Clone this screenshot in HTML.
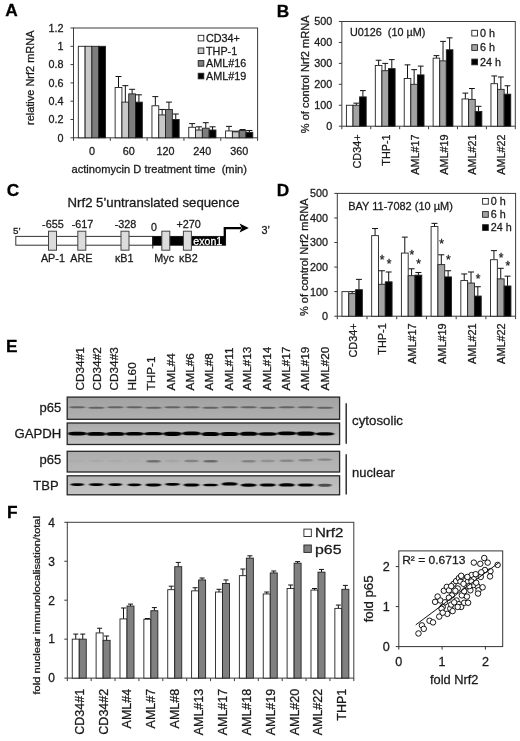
<!DOCTYPE html>
<html lang="en">
<head>
<meta charset="utf-8">
<title>Figure: Nrf2 mRNA regulation and NF-kB p65 localisation in AML</title>
<style>
text{stroke:#1a1a1a;stroke-width:.28px;}
html,body{margin:0;padding:0;background:#fff;}
body{width:520px;height:741px;overflow:hidden;font-family:"Liberation Sans",Arial,Helvetica,sans-serif;}
svg{display:block;}
</style>
</head>
<body>
<svg width="520" height="741" viewBox="0 0 520 741" font-family='"Liberation Sans", Arial, Helvetica, sans-serif' fill="#1a1a1a">
<defs>
<filter id="b1" x="-20%" y="-200%" width="140%" height="500%"><feGaussianBlur stdDeviation="0.8 0.5"/></filter>
<filter id="b2" x="-20%" y="-200%" width="140%" height="500%"><feGaussianBlur stdDeviation="0.8 0.55"/></filter>
<filter id="b3" x="-30%" y="-300%" width="160%" height="700%"><feGaussianBlur stdDeviation="1.3 0.7"/></filter>
<linearGradient id="g1" x1="0" y1="0" x2="0" y2="1"><stop offset="0" stop-color="#a2a2a2"/><stop offset="1" stop-color="#b0b0b0"/></linearGradient>
<linearGradient id="g2" x1="0" y1="0" x2="0" y2="1"><stop offset="0" stop-color="#aaaaaa"/><stop offset="1" stop-color="#c2c2c2"/></linearGradient>
<linearGradient id="g3" x1="0" y1="0" x2="0" y2="1"><stop offset="0" stop-color="#adadad"/><stop offset="1" stop-color="#b6b6b6"/></linearGradient>
<linearGradient id="g4" x1="0" y1="0" x2="0" y2="1"><stop offset="0" stop-color="#b6b6b6"/><stop offset="1" stop-color="#c4c4c4"/></linearGradient>
</defs>
<rect x="0" y="0" width="520" height="741" fill="#fff"/>
<text x="5.2" y="16.3" font-size="17.3" font-weight="bold" style="fill:#000;stroke:#000" xml:space="preserve">A</text>
<text x="276.7" y="16.5" font-size="17.3" font-weight="bold" style="fill:#000;stroke:#000" xml:space="preserve">B</text>
<text x="6.7" y="196.3" font-size="17.3" font-weight="bold" style="fill:#000;stroke:#000" xml:space="preserve">C</text>
<text x="276.7" y="196.3" font-size="17.3" font-weight="bold" style="fill:#000;stroke:#000" xml:space="preserve">D</text>
<text x="5.9" y="351.9" font-size="17.3" font-weight="bold" style="fill:#000;stroke:#000" xml:space="preserve">E</text>
<text x="6.9" y="517.5" font-size="17.3" font-weight="bold" style="fill:#000;stroke:#000" xml:space="preserve">F</text>
<g id="panelA">
<rect x="73.5" y="28" width="184.1" height="109.8" fill="none" stroke="#3c3c3c" stroke-width="1"/>
<line x1="70.5" y1="137.8" x2="73.5" y2="137.8" stroke="#3c3c3c" stroke-width="1"/>
<text x="63.5" y="141.67" font-size="10.8" text-anchor="end" xml:space="preserve">0</text>
<line x1="70.5" y1="119.5" x2="73.5" y2="119.5" stroke="#3c3c3c" stroke-width="1"/>
<text x="63.5" y="123.37" font-size="10.8" text-anchor="end" xml:space="preserve">0.2</text>
<line x1="70.5" y1="101.2" x2="73.5" y2="101.2" stroke="#3c3c3c" stroke-width="1"/>
<text x="63.5" y="105.07" font-size="10.8" text-anchor="end" xml:space="preserve">0.4</text>
<line x1="70.5" y1="82.9" x2="73.5" y2="82.9" stroke="#3c3c3c" stroke-width="1"/>
<text x="63.5" y="86.77" font-size="10.8" text-anchor="end" xml:space="preserve">0.6</text>
<line x1="70.5" y1="64.6" x2="73.5" y2="64.6" stroke="#3c3c3c" stroke-width="1"/>
<text x="63.5" y="68.47" font-size="10.8" text-anchor="end" xml:space="preserve">0.8</text>
<line x1="70.5" y1="46.3" x2="73.5" y2="46.3" stroke="#3c3c3c" stroke-width="1"/>
<text x="63.5" y="50.17" font-size="10.8" text-anchor="end" xml:space="preserve">1</text>
<line x1="70.5" y1="28" x2="73.5" y2="28" stroke="#3c3c3c" stroke-width="1"/>
<text x="63.5" y="31.87" font-size="10.8" text-anchor="end" xml:space="preserve">1.2</text>
<line x1="73.5" y1="137.8" x2="73.5" y2="140.8" stroke="#3c3c3c" stroke-width="1"/>
<line x1="110.32" y1="137.8" x2="110.32" y2="140.8" stroke="#3c3c3c" stroke-width="1"/>
<line x1="147.14" y1="137.8" x2="147.14" y2="140.8" stroke="#3c3c3c" stroke-width="1"/>
<line x1="183.96" y1="137.8" x2="183.96" y2="140.8" stroke="#3c3c3c" stroke-width="1"/>
<line x1="220.78" y1="137.8" x2="220.78" y2="140.8" stroke="#3c3c3c" stroke-width="1"/>
<line x1="257.6" y1="137.8" x2="257.6" y2="140.8" stroke="#3c3c3c" stroke-width="1"/>
<rect x="78.31" y="46.3" width="6.8" height="91.5" fill="#fff" stroke="#222" stroke-width="0.9"/>
<rect x="85.11" y="46.3" width="6.8" height="91.5" fill="#c8c8c8" stroke="#222" stroke-width="0.9"/>
<rect x="91.91" y="46.3" width="6.8" height="91.5" fill="#7d7d7d" stroke="#222" stroke-width="0.9"/>
<rect x="98.71" y="46.3" width="6.8" height="91.5" fill="#000" stroke="#222" stroke-width="0.9"/>
<line x1="118.53" y1="87.47" x2="118.53" y2="76.5" stroke="#111" stroke-width="1"/>
<line x1="115.53" y1="76.5" x2="121.53" y2="76.5" stroke="#111" stroke-width="1"/>
<rect x="115.13" y="87.47" width="6.8" height="50.33" fill="#fff" stroke="#222" stroke-width="0.9"/>
<line x1="125.33" y1="102.12" x2="125.33" y2="85.65" stroke="#111" stroke-width="1"/>
<line x1="122.33" y1="85.65" x2="128.33" y2="85.65" stroke="#111" stroke-width="1"/>
<rect x="121.93" y="102.12" width="6.8" height="35.69" fill="#c8c8c8" stroke="#222" stroke-width="0.9"/>
<line x1="132.13" y1="93.88" x2="132.13" y2="89.31" stroke="#111" stroke-width="1"/>
<line x1="129.13" y1="89.31" x2="135.13" y2="89.31" stroke="#111" stroke-width="1"/>
<rect x="128.73" y="93.88" width="6.8" height="43.92" fill="#7d7d7d" stroke="#222" stroke-width="0.9"/>
<line x1="138.93" y1="102.12" x2="138.93" y2="94.8" stroke="#111" stroke-width="1"/>
<line x1="135.93" y1="94.8" x2="141.93" y2="94.8" stroke="#111" stroke-width="1"/>
<rect x="135.53" y="102.12" width="6.8" height="35.69" fill="#000" stroke="#222" stroke-width="0.9"/>
<line x1="155.35" y1="105.78" x2="155.35" y2="96.62" stroke="#111" stroke-width="1"/>
<line x1="152.35" y1="96.62" x2="158.35" y2="96.62" stroke="#111" stroke-width="1"/>
<rect x="151.95" y="105.78" width="6.8" height="32.03" fill="#fff" stroke="#222" stroke-width="0.9"/>
<line x1="162.15" y1="114.93" x2="162.15" y2="109.44" stroke="#111" stroke-width="1"/>
<line x1="159.15" y1="109.44" x2="165.15" y2="109.44" stroke="#111" stroke-width="1"/>
<rect x="158.75" y="114.93" width="6.8" height="22.88" fill="#c8c8c8" stroke="#222" stroke-width="0.9"/>
<line x1="168.95" y1="109.44" x2="168.95" y2="102.12" stroke="#111" stroke-width="1"/>
<line x1="165.95" y1="102.12" x2="171.95" y2="102.12" stroke="#111" stroke-width="1"/>
<rect x="165.55" y="109.44" width="6.8" height="28.37" fill="#7d7d7d" stroke="#222" stroke-width="0.9"/>
<line x1="175.75" y1="119.5" x2="175.75" y2="114.01" stroke="#111" stroke-width="1"/>
<line x1="172.75" y1="114.01" x2="178.75" y2="114.01" stroke="#111" stroke-width="1"/>
<rect x="172.35" y="119.5" width="6.8" height="18.3" fill="#000" stroke="#222" stroke-width="0.9"/>
<line x1="192.17" y1="127.28" x2="192.17" y2="123.62" stroke="#111" stroke-width="1"/>
<line x1="189.17" y1="123.62" x2="195.17" y2="123.62" stroke="#111" stroke-width="1"/>
<rect x="188.77" y="127.28" width="6.8" height="10.52" fill="#fff" stroke="#222" stroke-width="0.9"/>
<line x1="198.97" y1="130.02" x2="198.97" y2="126.82" stroke="#111" stroke-width="1"/>
<line x1="195.97" y1="126.82" x2="201.97" y2="126.82" stroke="#111" stroke-width="1"/>
<rect x="195.57" y="130.02" width="6.8" height="7.78" fill="#c8c8c8" stroke="#222" stroke-width="0.9"/>
<line x1="205.77" y1="128.19" x2="205.77" y2="122.7" stroke="#111" stroke-width="1"/>
<line x1="202.77" y1="122.7" x2="208.77" y2="122.7" stroke="#111" stroke-width="1"/>
<rect x="202.37" y="128.19" width="6.8" height="9.61" fill="#7d7d7d" stroke="#222" stroke-width="0.9"/>
<line x1="212.57" y1="130.02" x2="212.57" y2="126.82" stroke="#111" stroke-width="1"/>
<line x1="209.57" y1="126.82" x2="215.57" y2="126.82" stroke="#111" stroke-width="1"/>
<rect x="209.17" y="130.02" width="6.8" height="7.78" fill="#000" stroke="#222" stroke-width="0.9"/>
<line x1="228.99" y1="130.94" x2="228.99" y2="126.36" stroke="#111" stroke-width="1"/>
<line x1="225.99" y1="126.36" x2="231.99" y2="126.36" stroke="#111" stroke-width="1"/>
<rect x="225.59" y="130.94" width="6.8" height="6.86" fill="#fff" stroke="#222" stroke-width="0.9"/>
<line x1="235.79" y1="131.85" x2="235.79" y2="131.21" stroke="#111" stroke-width="1"/>
<line x1="232.79" y1="131.21" x2="238.79" y2="131.21" stroke="#111" stroke-width="1"/>
<rect x="232.39" y="131.85" width="6.8" height="5.95" fill="#c8c8c8" stroke="#222" stroke-width="0.9"/>
<line x1="242.59" y1="130.48" x2="242.59" y2="129.56" stroke="#111" stroke-width="1"/>
<line x1="239.59" y1="129.56" x2="245.59" y2="129.56" stroke="#111" stroke-width="1"/>
<rect x="239.19" y="130.48" width="6.8" height="7.32" fill="#7d7d7d" stroke="#222" stroke-width="0.9"/>
<line x1="249.39" y1="132.31" x2="249.39" y2="130.48" stroke="#111" stroke-width="1"/>
<line x1="246.39" y1="130.48" x2="252.39" y2="130.48" stroke="#111" stroke-width="1"/>
<rect x="245.99" y="132.31" width="6.8" height="5.49" fill="#000" stroke="#222" stroke-width="0.9"/>
<text x="91.91" y="155" font-size="10.8" text-anchor="middle" xml:space="preserve">0</text>
<text x="128.73" y="155" font-size="10.8" text-anchor="middle" xml:space="preserve">60</text>
<text x="165.55" y="155" font-size="10.8" text-anchor="middle" xml:space="preserve">120</text>
<text x="202.37" y="155" font-size="10.8" text-anchor="middle" xml:space="preserve">240</text>
<text x="239.19" y="155" font-size="10.8" text-anchor="middle" xml:space="preserve">360</text>
<text x="71.5" y="173.2" font-size="10.8" textLength="175.5" lengthAdjust="spacingAndGlyphs" xml:space="preserve">actinomycin D treatment time  (min)</text>
<text x="34.3" y="125" font-size="10.8" transform="rotate(-90 34.3 125)" textLength="94.5" lengthAdjust="spacingAndGlyphs" xml:space="preserve">relative Nrf2 mRNA</text>
<rect x="198.2" y="35.3" width="5.6" height="5.6" fill="#fff" stroke="#222" stroke-width="0.9"/>
<text x="206" y="41.9" font-size="10.8" xml:space="preserve">CD34+</text>
<rect x="198.2" y="47.95" width="5.6" height="5.6" fill="#c8c8c8" stroke="#222" stroke-width="0.9"/>
<text x="206" y="54.55" font-size="10.8" xml:space="preserve">THP-1</text>
<rect x="198.2" y="60.6" width="5.6" height="5.6" fill="#7d7d7d" stroke="#222" stroke-width="0.9"/>
<text x="206" y="67.2" font-size="10.8" xml:space="preserve">AML#16</text>
<rect x="198.2" y="73.25" width="5.6" height="5.6" fill="#000" stroke="#222" stroke-width="0.9"/>
<text x="206" y="79.85" font-size="10.8" xml:space="preserve">AML#19</text>
</g>
<g id="panelB">
<rect x="341.85" y="21.5" width="173.45" height="104.7" fill="none" stroke="#3c3c3c" stroke-width="1"/>
<line x1="338.85" y1="126.2" x2="341.85" y2="126.2" stroke="#3c3c3c" stroke-width="1"/>
<text x="332.15" y="130.07" font-size="10.8" text-anchor="end" xml:space="preserve">0</text>
<line x1="338.85" y1="105.26" x2="341.85" y2="105.26" stroke="#3c3c3c" stroke-width="1"/>
<text x="332.15" y="109.13" font-size="10.8" text-anchor="end" xml:space="preserve">100</text>
<line x1="338.85" y1="84.32" x2="341.85" y2="84.32" stroke="#3c3c3c" stroke-width="1"/>
<text x="332.15" y="88.19" font-size="10.8" text-anchor="end" xml:space="preserve">200</text>
<line x1="338.85" y1="63.38" x2="341.85" y2="63.38" stroke="#3c3c3c" stroke-width="1"/>
<text x="332.15" y="67.25" font-size="10.8" text-anchor="end" xml:space="preserve">300</text>
<line x1="338.85" y1="42.44" x2="341.85" y2="42.44" stroke="#3c3c3c" stroke-width="1"/>
<text x="332.15" y="46.31" font-size="10.8" text-anchor="end" xml:space="preserve">400</text>
<line x1="338.85" y1="21.5" x2="341.85" y2="21.5" stroke="#3c3c3c" stroke-width="1"/>
<text x="332.15" y="25.37" font-size="10.8" text-anchor="end" xml:space="preserve">500</text>
<line x1="341.85" y1="126.2" x2="341.85" y2="129.2" stroke="#3c3c3c" stroke-width="1"/>
<line x1="370.76" y1="126.2" x2="370.76" y2="129.2" stroke="#3c3c3c" stroke-width="1"/>
<line x1="399.67" y1="126.2" x2="399.67" y2="129.2" stroke="#3c3c3c" stroke-width="1"/>
<line x1="428.57" y1="126.2" x2="428.57" y2="129.2" stroke="#3c3c3c" stroke-width="1"/>
<line x1="457.48" y1="126.2" x2="457.48" y2="129.2" stroke="#3c3c3c" stroke-width="1"/>
<line x1="486.39" y1="126.2" x2="486.39" y2="129.2" stroke="#3c3c3c" stroke-width="1"/>
<line x1="515.3" y1="126.2" x2="515.3" y2="129.2" stroke="#3c3c3c" stroke-width="1"/>
<rect x="346.4" y="105.26" width="6.6" height="20.94" fill="#fff" stroke="#222" stroke-width="0.9"/>
<line x1="356.3" y1="105.26" x2="356.3" y2="103.17" stroke="#111" stroke-width="1"/>
<line x1="353.4" y1="103.17" x2="359.2" y2="103.17" stroke="#111" stroke-width="1"/>
<rect x="353" y="105.26" width="6.6" height="20.94" fill="#a3a3a3" stroke="#222" stroke-width="0.9"/>
<line x1="362.9" y1="96.88" x2="362.9" y2="90.6" stroke="#111" stroke-width="1"/>
<line x1="360" y1="90.6" x2="365.8" y2="90.6" stroke="#111" stroke-width="1"/>
<rect x="359.6" y="96.88" width="6.6" height="29.32" fill="#000" stroke="#222" stroke-width="0.9"/>
<line x1="378.61" y1="65.47" x2="378.61" y2="60.24" stroke="#111" stroke-width="1"/>
<line x1="375.71" y1="60.24" x2="381.51" y2="60.24" stroke="#111" stroke-width="1"/>
<rect x="375.31" y="65.47" width="6.6" height="60.73" fill="#fff" stroke="#222" stroke-width="0.9"/>
<line x1="385.21" y1="70.71" x2="385.21" y2="63.38" stroke="#111" stroke-width="1"/>
<line x1="382.31" y1="63.38" x2="388.11" y2="63.38" stroke="#111" stroke-width="1"/>
<rect x="381.91" y="70.71" width="6.6" height="55.49" fill="#a3a3a3" stroke="#222" stroke-width="0.9"/>
<line x1="391.81" y1="68.62" x2="391.81" y2="59.61" stroke="#111" stroke-width="1"/>
<line x1="388.91" y1="59.61" x2="394.71" y2="59.61" stroke="#111" stroke-width="1"/>
<rect x="388.51" y="68.62" width="6.6" height="57.59" fill="#000" stroke="#222" stroke-width="0.9"/>
<line x1="407.52" y1="78.46" x2="407.52" y2="64.85" stroke="#111" stroke-width="1"/>
<line x1="404.62" y1="64.85" x2="410.42" y2="64.85" stroke="#111" stroke-width="1"/>
<rect x="404.22" y="78.46" width="6.6" height="47.74" fill="#fff" stroke="#222" stroke-width="0.9"/>
<line x1="414.12" y1="84.32" x2="414.12" y2="69.66" stroke="#111" stroke-width="1"/>
<line x1="411.22" y1="69.66" x2="417.02" y2="69.66" stroke="#111" stroke-width="1"/>
<rect x="410.82" y="84.32" width="6.6" height="41.88" fill="#a3a3a3" stroke="#222" stroke-width="0.9"/>
<line x1="420.72" y1="74.9" x2="420.72" y2="66.1" stroke="#111" stroke-width="1"/>
<line x1="417.82" y1="66.1" x2="423.62" y2="66.1" stroke="#111" stroke-width="1"/>
<rect x="417.42" y="74.9" width="6.6" height="51.3" fill="#000" stroke="#222" stroke-width="0.9"/>
<line x1="436.43" y1="58.14" x2="436.43" y2="55.63" stroke="#111" stroke-width="1"/>
<line x1="433.53" y1="55.63" x2="439.33" y2="55.63" stroke="#111" stroke-width="1"/>
<rect x="433.13" y="58.14" width="6.6" height="68.06" fill="#fff" stroke="#222" stroke-width="0.9"/>
<line x1="443.03" y1="60.87" x2="443.03" y2="41.39" stroke="#111" stroke-width="1"/>
<line x1="440.13" y1="41.39" x2="445.93" y2="41.39" stroke="#111" stroke-width="1"/>
<rect x="439.73" y="60.87" width="6.6" height="65.33" fill="#a3a3a3" stroke="#222" stroke-width="0.9"/>
<line x1="449.63" y1="49.77" x2="449.63" y2="37.83" stroke="#111" stroke-width="1"/>
<line x1="446.73" y1="37.83" x2="452.53" y2="37.83" stroke="#111" stroke-width="1"/>
<rect x="446.33" y="49.77" width="6.6" height="76.43" fill="#000" stroke="#222" stroke-width="0.9"/>
<line x1="465.34" y1="98.98" x2="465.34" y2="93.11" stroke="#111" stroke-width="1"/>
<line x1="462.44" y1="93.11" x2="468.24" y2="93.11" stroke="#111" stroke-width="1"/>
<rect x="462.04" y="98.98" width="6.6" height="27.22" fill="#fff" stroke="#222" stroke-width="0.9"/>
<line x1="471.94" y1="99.4" x2="471.94" y2="88.51" stroke="#111" stroke-width="1"/>
<line x1="469.04" y1="88.51" x2="474.84" y2="88.51" stroke="#111" stroke-width="1"/>
<rect x="468.64" y="99.4" width="6.6" height="26.8" fill="#a3a3a3" stroke="#222" stroke-width="0.9"/>
<line x1="478.54" y1="111.54" x2="478.54" y2="106.31" stroke="#111" stroke-width="1"/>
<line x1="475.64" y1="106.31" x2="481.44" y2="106.31" stroke="#111" stroke-width="1"/>
<rect x="475.24" y="111.54" width="6.6" height="14.66" fill="#000" stroke="#222" stroke-width="0.9"/>
<line x1="494.25" y1="83.69" x2="494.25" y2="75.94" stroke="#111" stroke-width="1"/>
<line x1="491.35" y1="75.94" x2="497.15" y2="75.94" stroke="#111" stroke-width="1"/>
<rect x="490.95" y="83.69" width="6.6" height="42.51" fill="#fff" stroke="#222" stroke-width="0.9"/>
<line x1="500.85" y1="89.35" x2="500.85" y2="76.99" stroke="#111" stroke-width="1"/>
<line x1="497.95" y1="76.99" x2="503.75" y2="76.99" stroke="#111" stroke-width="1"/>
<rect x="497.55" y="89.35" width="6.6" height="36.85" fill="#a3a3a3" stroke="#222" stroke-width="0.9"/>
<line x1="507.45" y1="94.16" x2="507.45" y2="85.79" stroke="#111" stroke-width="1"/>
<line x1="504.55" y1="85.79" x2="510.35" y2="85.79" stroke="#111" stroke-width="1"/>
<rect x="504.15" y="94.16" width="6.6" height="32.04" fill="#000" stroke="#222" stroke-width="0.9"/>
<text x="360.8" y="134.5" font-size="10.8" text-anchor="end" transform="rotate(-90 360.8 134.5)" xml:space="preserve">CD34+</text>
<text x="389.71" y="134.5" font-size="10.8" text-anchor="end" transform="rotate(-90 389.71 134.5)" xml:space="preserve">THP-1</text>
<text x="418.62" y="134.5" font-size="10.8" text-anchor="end" transform="rotate(-90 418.62 134.5)" xml:space="preserve">AML#17</text>
<text x="447.53" y="134.5" font-size="10.8" text-anchor="end" transform="rotate(-90 447.53 134.5)" xml:space="preserve">AML#19</text>
<text x="476.44" y="134.5" font-size="10.8" text-anchor="end" transform="rotate(-90 476.44 134.5)" xml:space="preserve">AML#21</text>
<text x="505.35" y="134.5" font-size="10.8" text-anchor="end" transform="rotate(-90 505.35 134.5)" xml:space="preserve">AML#22</text>
<text x="309" y="133.2" font-size="10.8" transform="rotate(-90 309 133.2)" textLength="117.7" lengthAdjust="spacingAndGlyphs" xml:space="preserve">% of control Nrf2 mRNA</text>
<text x="350" y="35.8" font-size="10.8" xml:space="preserve">U0126  (10 µM)</text>
<rect x="471.8" y="30.3" width="5.7" height="5.7" fill="#fff" stroke="#222" stroke-width="0.9"/>
<text x="480" y="36.7" font-size="10.8" xml:space="preserve">0 h</text>
<rect x="471.8" y="44.7" width="5.7" height="5.7" fill="#a3a3a3" stroke="#222" stroke-width="0.9"/>
<text x="480" y="51.1" font-size="10.8" xml:space="preserve">6 h</text>
<rect x="471.8" y="59.1" width="5.7" height="5.7" fill="#000" stroke="#222" stroke-width="0.9"/>
<text x="480" y="65.5" font-size="10.8" xml:space="preserve">24 h</text>
</g>
<g id="panelC">
<text x="67.6" y="207.4" font-size="12.4" textLength="172" lengthAdjust="spacingAndGlyphs" xml:space="preserve">Nrf2 5’untranslated sequence</text>
<rect x="15.8" y="236.4" width="137" height="8.8" fill="#fff" stroke="#333" stroke-width="1"/>
<rect x="152.8" y="236.2" width="73" height="9.2" fill="#000" stroke="#000" stroke-width="0.5"/>
<line x1="152.8" y1="236" x2="152.8" y2="248.5" stroke="#222" stroke-width="1"/>
<rect x="48.5" y="231.2" width="8" height="19" fill="#dcdcdc" stroke="#444" stroke-width="1"/>
<rect x="77.8" y="231.2" width="8" height="19" fill="#dcdcdc" stroke="#444" stroke-width="1"/>
<rect x="121" y="231.2" width="8" height="19" fill="#dcdcdc" stroke="#444" stroke-width="1"/>
<rect x="161.8" y="231.2" width="8" height="19" fill="#dcdcdc" stroke="#444" stroke-width="1"/>
<rect x="183.4" y="231.2" width="8" height="19" fill="#dcdcdc" stroke="#444" stroke-width="1"/>
<text x="13" y="234.4" font-size="9.8" xml:space="preserve">5’</text>
<text x="52.9" y="227.5" font-size="10.8" text-anchor="middle" xml:space="preserve">-655</text>
<text x="82.5" y="227.5" font-size="10.8" text-anchor="middle" xml:space="preserve">-617</text>
<text x="125.5" y="227.5" font-size="10.8" text-anchor="middle" xml:space="preserve">-328</text>
<text x="153.9" y="231.2" font-size="10.6" text-anchor="middle" xml:space="preserve">0</text>
<text x="188.6" y="227.5" font-size="10.8" text-anchor="middle" xml:space="preserve">+270</text>
<text x="52.9" y="262.4" font-size="10.8" text-anchor="middle" xml:space="preserve">AP-1</text>
<text x="81.3" y="262.4" font-size="10.8" text-anchor="middle" xml:space="preserve">ARE</text>
<text x="124.2" y="262.4" font-size="10.8" text-anchor="middle" xml:space="preserve">κB1</text>
<text x="164.2" y="262.4" font-size="10.8" text-anchor="middle" xml:space="preserve">Myc</text>
<text x="188.4" y="262.4" font-size="10.8" text-anchor="middle" xml:space="preserve">κB2</text>
<text x="193.3" y="244.6" font-size="10.6" style="fill:#fff;stroke:#fff" xml:space="preserve">exon1</text>
<path d="M224.8 237 V228.1 H241" fill="none" stroke="#000" stroke-width="2.3"/>
<path d="M248.8 228.1 L239.6 223.6 L241.6 228.1 L239.6 232.6 Z" fill="#000"/>
<text x="261.4" y="233.7" font-size="10.8" xml:space="preserve">3’</text>
</g>
<g id="panelD">
<rect x="337.3" y="193.4" width="178.3" height="122.8" fill="none" stroke="#3c3c3c" stroke-width="1"/>
<line x1="334.3" y1="316.2" x2="337.3" y2="316.2" stroke="#3c3c3c" stroke-width="1"/>
<text x="328.1" y="320.07" font-size="10.8" text-anchor="end" xml:space="preserve">0</text>
<line x1="334.3" y1="291.64" x2="337.3" y2="291.64" stroke="#3c3c3c" stroke-width="1"/>
<text x="328.1" y="295.51" font-size="10.8" text-anchor="end" xml:space="preserve">100</text>
<line x1="334.3" y1="267.08" x2="337.3" y2="267.08" stroke="#3c3c3c" stroke-width="1"/>
<text x="328.1" y="270.95" font-size="10.8" text-anchor="end" xml:space="preserve">200</text>
<line x1="334.3" y1="242.52" x2="337.3" y2="242.52" stroke="#3c3c3c" stroke-width="1"/>
<text x="328.1" y="246.39" font-size="10.8" text-anchor="end" xml:space="preserve">300</text>
<line x1="334.3" y1="217.96" x2="337.3" y2="217.96" stroke="#3c3c3c" stroke-width="1"/>
<text x="328.1" y="221.83" font-size="10.8" text-anchor="end" xml:space="preserve">400</text>
<line x1="334.3" y1="193.4" x2="337.3" y2="193.4" stroke="#3c3c3c" stroke-width="1"/>
<text x="328.1" y="197.27" font-size="10.8" text-anchor="end" xml:space="preserve">500</text>
<line x1="337.3" y1="316.2" x2="337.3" y2="319.2" stroke="#3c3c3c" stroke-width="1"/>
<line x1="367.02" y1="316.2" x2="367.02" y2="319.2" stroke="#3c3c3c" stroke-width="1"/>
<line x1="396.73" y1="316.2" x2="396.73" y2="319.2" stroke="#3c3c3c" stroke-width="1"/>
<line x1="426.45" y1="316.2" x2="426.45" y2="319.2" stroke="#3c3c3c" stroke-width="1"/>
<line x1="456.17" y1="316.2" x2="456.17" y2="319.2" stroke="#3c3c3c" stroke-width="1"/>
<line x1="485.88" y1="316.2" x2="485.88" y2="319.2" stroke="#3c3c3c" stroke-width="1"/>
<line x1="515.6" y1="316.2" x2="515.6" y2="319.2" stroke="#3c3c3c" stroke-width="1"/>
<rect x="341.96" y="291.64" width="6.8" height="24.56" fill="#fff" stroke="#222" stroke-width="0.9"/>
<line x1="352.16" y1="293.6" x2="352.16" y2="291.64" stroke="#111" stroke-width="1"/>
<line x1="349.16" y1="291.64" x2="355.16" y2="291.64" stroke="#111" stroke-width="1"/>
<rect x="348.76" y="293.6" width="6.8" height="22.6" fill="#a3a3a3" stroke="#222" stroke-width="0.9"/>
<line x1="358.96" y1="289.68" x2="358.96" y2="279.36" stroke="#111" stroke-width="1"/>
<line x1="355.96" y1="279.36" x2="361.96" y2="279.36" stroke="#111" stroke-width="1"/>
<rect x="355.56" y="289.68" width="6.8" height="26.52" fill="#000" stroke="#222" stroke-width="0.9"/>
<line x1="375.07" y1="235.64" x2="375.07" y2="228.52" stroke="#111" stroke-width="1"/>
<line x1="372.07" y1="228.52" x2="378.07" y2="228.52" stroke="#111" stroke-width="1"/>
<rect x="371.68" y="235.64" width="6.8" height="80.56" fill="#fff" stroke="#222" stroke-width="0.9"/>
<line x1="381.88" y1="284.27" x2="381.88" y2="270.76" stroke="#111" stroke-width="1"/>
<line x1="378.88" y1="270.76" x2="384.88" y2="270.76" stroke="#111" stroke-width="1"/>
<rect x="378.48" y="284.27" width="6.8" height="31.93" fill="#a3a3a3" stroke="#222" stroke-width="0.9"/>
<line x1="388.68" y1="281.82" x2="388.68" y2="271.99" stroke="#111" stroke-width="1"/>
<line x1="385.68" y1="271.99" x2="391.68" y2="271.99" stroke="#111" stroke-width="1"/>
<rect x="385.28" y="281.82" width="6.8" height="34.38" fill="#000" stroke="#222" stroke-width="0.9"/>
<line x1="404.79" y1="253.08" x2="404.79" y2="237.12" stroke="#111" stroke-width="1"/>
<line x1="401.79" y1="237.12" x2="407.79" y2="237.12" stroke="#111" stroke-width="1"/>
<rect x="401.39" y="253.08" width="6.8" height="63.12" fill="#fff" stroke="#222" stroke-width="0.9"/>
<line x1="411.59" y1="275.68" x2="411.59" y2="268.8" stroke="#111" stroke-width="1"/>
<line x1="408.59" y1="268.8" x2="414.59" y2="268.8" stroke="#111" stroke-width="1"/>
<rect x="408.19" y="275.68" width="6.8" height="40.52" fill="#a3a3a3" stroke="#222" stroke-width="0.9"/>
<line x1="418.39" y1="275.18" x2="418.39" y2="272.48" stroke="#111" stroke-width="1"/>
<line x1="415.39" y1="272.48" x2="421.39" y2="272.48" stroke="#111" stroke-width="1"/>
<rect x="414.99" y="275.18" width="6.8" height="41.02" fill="#000" stroke="#222" stroke-width="0.9"/>
<line x1="434.51" y1="226.56" x2="434.51" y2="223.36" stroke="#111" stroke-width="1"/>
<line x1="431.51" y1="223.36" x2="437.51" y2="223.36" stroke="#111" stroke-width="1"/>
<rect x="431.11" y="226.56" width="6.8" height="89.64" fill="#fff" stroke="#222" stroke-width="0.9"/>
<line x1="441.31" y1="264.62" x2="441.31" y2="254.8" stroke="#111" stroke-width="1"/>
<line x1="438.31" y1="254.8" x2="444.31" y2="254.8" stroke="#111" stroke-width="1"/>
<rect x="437.91" y="264.62" width="6.8" height="51.58" fill="#a3a3a3" stroke="#222" stroke-width="0.9"/>
<line x1="448.11" y1="276.9" x2="448.11" y2="270.76" stroke="#111" stroke-width="1"/>
<line x1="445.11" y1="270.76" x2="451.11" y2="270.76" stroke="#111" stroke-width="1"/>
<rect x="444.71" y="276.9" width="6.8" height="39.3" fill="#000" stroke="#222" stroke-width="0.9"/>
<line x1="464.23" y1="280.59" x2="464.23" y2="273.96" stroke="#111" stroke-width="1"/>
<line x1="461.23" y1="273.96" x2="467.23" y2="273.96" stroke="#111" stroke-width="1"/>
<rect x="460.83" y="280.59" width="6.8" height="35.61" fill="#fff" stroke="#222" stroke-width="0.9"/>
<line x1="471.03" y1="283.04" x2="471.03" y2="271.99" stroke="#111" stroke-width="1"/>
<line x1="468.03" y1="271.99" x2="474.03" y2="271.99" stroke="#111" stroke-width="1"/>
<rect x="467.63" y="283.04" width="6.8" height="33.16" fill="#a3a3a3" stroke="#222" stroke-width="0.9"/>
<line x1="477.83" y1="296.06" x2="477.83" y2="286.73" stroke="#111" stroke-width="1"/>
<line x1="474.83" y1="286.73" x2="480.83" y2="286.73" stroke="#111" stroke-width="1"/>
<rect x="474.43" y="296.06" width="6.8" height="20.14" fill="#000" stroke="#222" stroke-width="0.9"/>
<line x1="493.94" y1="259.71" x2="493.94" y2="250.62" stroke="#111" stroke-width="1"/>
<line x1="490.94" y1="250.62" x2="496.94" y2="250.62" stroke="#111" stroke-width="1"/>
<rect x="490.54" y="259.71" width="6.8" height="56.49" fill="#fff" stroke="#222" stroke-width="0.9"/>
<line x1="500.74" y1="278.87" x2="500.74" y2="268.31" stroke="#111" stroke-width="1"/>
<line x1="497.74" y1="268.31" x2="503.74" y2="268.31" stroke="#111" stroke-width="1"/>
<rect x="497.34" y="278.87" width="6.8" height="37.33" fill="#a3a3a3" stroke="#222" stroke-width="0.9"/>
<line x1="507.54" y1="285.99" x2="507.54" y2="276.17" stroke="#111" stroke-width="1"/>
<line x1="504.54" y1="276.17" x2="510.54" y2="276.17" stroke="#111" stroke-width="1"/>
<rect x="504.14" y="285.99" width="6.8" height="30.21" fill="#000" stroke="#222" stroke-width="0.9"/>
<text x="356.66" y="323.3" font-size="10.9" text-anchor="end" transform="rotate(-90 356.66 323.3)" xml:space="preserve">CD34+</text>
<text x="386.38" y="323.3" font-size="10.9" text-anchor="end" transform="rotate(-90 386.38 323.3)" xml:space="preserve">THP-1</text>
<text x="416.09" y="323.3" font-size="10.9" text-anchor="end" transform="rotate(-90 416.09 323.3)" xml:space="preserve">AML#17</text>
<text x="445.81" y="323.3" font-size="10.9" text-anchor="end" transform="rotate(-90 445.81 323.3)" xml:space="preserve">AML#19</text>
<text x="475.53" y="323.3" font-size="10.9" text-anchor="end" transform="rotate(-90 475.53 323.3)" xml:space="preserve">AML#21</text>
<text x="505.24" y="323.3" font-size="10.9" text-anchor="end" transform="rotate(-90 505.24 323.3)" xml:space="preserve">AML#22</text>
<text x="307.5" y="316" font-size="10.8" transform="rotate(-90 307.5 316)" textLength="117.7" lengthAdjust="spacingAndGlyphs" xml:space="preserve">% of control Nrf2 mRNA</text>
<text x="348.3" y="209.5" font-size="10.8" textLength="104.5" lengthAdjust="spacingAndGlyphs" xml:space="preserve">BAY 11-7082 (10 µM)</text>
<rect x="482.6" y="198.5" width="5.7" height="5.7" fill="#fff" stroke="#222" stroke-width="0.9"/>
<text x="490.8" y="204.9" font-size="10.8" xml:space="preserve">0 h</text>
<rect x="482.6" y="211.6" width="5.7" height="5.7" fill="#a3a3a3" stroke="#222" stroke-width="0.9"/>
<text x="490.8" y="218" font-size="10.8" xml:space="preserve">6 h</text>
<rect x="482.6" y="224.7" width="5.7" height="5.7" fill="#000" stroke="#222" stroke-width="0.9"/>
<text x="490.8" y="231.1" font-size="10.8" xml:space="preserve">24 h</text>
<text x="382.18" y="264.1" font-size="12" text-anchor="middle" xml:space="preserve">*</text>
<text x="388.98" y="267.79" font-size="12" text-anchor="middle" xml:space="preserve">*</text>
<text x="411.89" y="259.44" font-size="12" text-anchor="middle" xml:space="preserve">*</text>
<text x="418.69" y="267.79" font-size="12" text-anchor="middle" xml:space="preserve">*</text>
<text x="441.61" y="247.89" font-size="12" text-anchor="middle" xml:space="preserve">*</text>
<text x="448.41" y="264.1" font-size="12" text-anchor="middle" xml:space="preserve">*</text>
<text x="478.13" y="283.01" font-size="12" text-anchor="middle" xml:space="preserve">*</text>
<text x="501.04" y="262.14" font-size="12" text-anchor="middle" xml:space="preserve">*</text>
<text x="507.84" y="269.5" font-size="12" text-anchor="middle" xml:space="preserve">*</text>
</g>
<g id="panelE">
<text x="83.8" y="390.4" font-size="11.75" transform="rotate(-90 83.8 390.4)" xml:space="preserve">CD34#1</text>
<text x="101.5" y="390.4" font-size="11.75" transform="rotate(-90 101.5 390.4)" xml:space="preserve">CD34#2</text>
<text x="117.7" y="390.4" font-size="11.75" transform="rotate(-90 117.7 390.4)" xml:space="preserve">CD34#3</text>
<text x="136.2" y="390.4" font-size="11.75" transform="rotate(-90 136.2 390.4)" xml:space="preserve">HL60</text>
<text x="155" y="390.4" font-size="11.75" transform="rotate(-90 155 390.4)" xml:space="preserve">THP-1</text>
<text x="175" y="390.4" font-size="11.75" transform="rotate(-90 175 390.4)" xml:space="preserve">AML#4</text>
<text x="194.2" y="390.4" font-size="11.75" transform="rotate(-90 194.2 390.4)" xml:space="preserve">AML#6</text>
<text x="213.5" y="390.4" font-size="11.75" transform="rotate(-90 213.5 390.4)" xml:space="preserve">AML#8</text>
<text x="233.4" y="390.4" font-size="11.75" transform="rotate(-90 233.4 390.4)" xml:space="preserve">AML#11</text>
<text x="251.5" y="390.4" font-size="11.75" transform="rotate(-90 251.5 390.4)" xml:space="preserve">AML#13</text>
<text x="270.7" y="390.4" font-size="11.75" transform="rotate(-90 270.7 390.4)" xml:space="preserve">AML#14</text>
<text x="289.6" y="390.4" font-size="11.75" transform="rotate(-90 289.6 390.4)" xml:space="preserve">AML#17</text>
<text x="309.2" y="390.4" font-size="11.75" transform="rotate(-90 309.2 390.4)" xml:space="preserve">AML#19</text>
<text x="328.8" y="390.4" font-size="11.75" transform="rotate(-90 328.8 390.4)" xml:space="preserve">AML#20</text>
<rect x="67.2" y="397.1" width="272.4" height="22.2" fill="url(#g1)"/>
<g filter="url(#b1)">
<rect x="69.3" y="406.3" width="16" height="2" rx="5.5" ry="1" fill="#4a4a4a" opacity="0.75"/>
<rect x="88.34" y="406.7" width="16" height="2" rx="5.5" ry="1" fill="#4a4a4a" opacity="0.75"/>
<rect x="107.38" y="406.3" width="16" height="2" rx="5.5" ry="1" fill="#4a4a4a" opacity="0.75"/>
<rect x="126.42" y="406.3" width="16" height="2" rx="5.5" ry="1" fill="#4a4a4a" opacity="0.75"/>
<rect x="145.46" y="406.7" width="16" height="2" rx="5.5" ry="1" fill="#4a4a4a" opacity="0.75"/>
<rect x="164.5" y="406.3" width="16" height="2" rx="5.5" ry="1" fill="#4a4a4a" opacity="0.75"/>
<rect x="183.54" y="406.3" width="16" height="2" rx="5.5" ry="1" fill="#4a4a4a" opacity="0.75"/>
<rect x="202.58" y="406.7" width="16" height="2" rx="5.5" ry="1" fill="#4a4a4a" opacity="0.75"/>
<rect x="221.62" y="406.3" width="16" height="2" rx="5.5" ry="1" fill="#4a4a4a" opacity="0.75"/>
<rect x="240.66" y="406.3" width="16" height="2" rx="5.5" ry="1" fill="#4a4a4a" opacity="0.75"/>
<rect x="259.7" y="406.7" width="16" height="2" rx="5.5" ry="1" fill="#4a4a4a" opacity="0.75"/>
<rect x="278.74" y="406.3" width="16" height="2" rx="5.5" ry="1" fill="#4a4a4a" opacity="0.75"/>
<rect x="297.78" y="406.3" width="16" height="2" rx="5.5" ry="1" fill="#4a4a4a" opacity="0.75"/>
<rect x="316.82" y="406.7" width="16" height="2" rx="5.5" ry="1" fill="#4a4a4a" opacity="0.75"/>
</g>
<rect x="67.2" y="397.1" width="272.4" height="22.2" fill="none" stroke="#262626" stroke-width="1.3"/>
<rect x="67.2" y="423" width="272.4" height="21.5" fill="url(#g2)"/>
<g filter="url(#b2)">
<rect x="68" y="431.73" width="18.6" height="3.74" rx="5.5" ry="1.87" fill="#000" opacity="1"/>
<rect x="87.04" y="432.03" width="18.6" height="3.74" rx="5.5" ry="1.87" fill="#000" opacity="1"/>
<rect x="106.08" y="432.03" width="18.6" height="3.74" rx="5.5" ry="1.87" fill="#000" opacity="1"/>
<rect x="125.12" y="432" width="18.6" height="3.6" rx="5.5" ry="1.8" fill="#000" opacity="1"/>
<rect x="144.16" y="432.04" width="18.6" height="3.31" rx="5.5" ry="1.66" fill="#000" opacity="1"/>
<rect x="163.2" y="431.71" width="18.6" height="4.18" rx="5.5" ry="2.09" fill="#000" opacity="1"/>
<rect x="182.24" y="431.46" width="18.6" height="3.89" rx="5.5" ry="1.94" fill="#000" opacity="1"/>
<rect x="201.28" y="432.06" width="18.6" height="3.89" rx="5.5" ry="1.94" fill="#000" opacity="1"/>
<rect x="220.32" y="431.91" width="18.6" height="4.18" rx="5.5" ry="2.09" fill="#000" opacity="1"/>
<rect x="239.36" y="431.86" width="18.6" height="3.89" rx="5.5" ry="1.94" fill="#000" opacity="1"/>
<rect x="258.4" y="432.37" width="18.6" height="3.46" rx="5.5" ry="1.73" fill="#000" opacity="1"/>
<rect x="277.44" y="431.43" width="18.6" height="3.74" rx="5.5" ry="1.87" fill="#000" opacity="1"/>
<rect x="296.48" y="431.44" width="18.6" height="4.32" rx="5.5" ry="2.16" fill="#000" opacity="1"/>
<rect x="315.52" y="432.22" width="18.6" height="3.17" rx="5.5" ry="1.58" fill="#000" opacity="1"/>
</g>
<rect x="67.2" y="423" width="272.4" height="21.5" fill="none" stroke="#262626" stroke-width="1.3"/>
<rect x="67.2" y="451.3" width="272.4" height="20.7" fill="url(#g3)"/>
<g filter="url(#b3)">
<rect x="70.1" y="459.8" width="14.4" height="2.4" rx="5.5" ry="1.2" fill="#444" opacity="0.05"/>
<rect x="89.14" y="459.8" width="14.4" height="2.4" rx="5.5" ry="1.2" fill="#444" opacity="0.07"/>
<rect x="108.18" y="459.8" width="14.4" height="2.4" rx="5.5" ry="1.2" fill="#444" opacity="0.07"/>
<rect x="127.22" y="459.8" width="14.4" height="2.4" rx="5.5" ry="1.2" fill="#444" opacity="0.05"/>
<rect x="146.26" y="460.1" width="14.4" height="2.4" rx="5.5" ry="1.2" fill="#444" opacity="0.6"/>
<rect x="165.3" y="459.8" width="14.4" height="2.4" rx="5.5" ry="1.2" fill="#444" opacity="0.12"/>
<rect x="184.34" y="459.8" width="14.4" height="2.4" rx="5.5" ry="1.2" fill="#444" opacity="0.42"/>
<rect x="203.38" y="460" width="14.4" height="2.4" rx="5.5" ry="1.2" fill="#444" opacity="0.65"/>
<rect x="222.42" y="459.8" width="14.4" height="2.4" rx="5.5" ry="1.2" fill="#444" opacity="0.04"/>
<rect x="241.46" y="460.1" width="14.4" height="2.4" rx="5.5" ry="1.2" fill="#444" opacity="0.42"/>
<rect x="260.5" y="459.8" width="14.4" height="2.4" rx="5.5" ry="1.2" fill="#444" opacity="0.3"/>
<rect x="279.54" y="459.6" width="14.4" height="2.4" rx="5.5" ry="1.2" fill="#444" opacity="0.38"/>
<rect x="298.58" y="459" width="14.4" height="2.4" rx="5.5" ry="1.2" fill="#444" opacity="0.42"/>
<rect x="317.62" y="458.4" width="14.4" height="2.4" rx="5.5" ry="1.2" fill="#444" opacity="0.42"/>
</g>
<rect x="67.2" y="451.3" width="272.4" height="20.7" fill="none" stroke="#262626" stroke-width="1.3"/>
<rect x="67.2" y="475.8" width="272.4" height="19" fill="url(#g4)"/>
<g filter="url(#b1)">
<rect x="70.5" y="483.19" width="13.6" height="2.81" rx="5.5" ry="1.41" fill="#000" opacity="1"/>
<rect x="89.04" y="483.19" width="14.6" height="2.81" rx="5.5" ry="1.41" fill="#000" opacity="1"/>
<rect x="108.58" y="483.27" width="13.6" height="2.66" rx="5.5" ry="1.33" fill="#000" opacity="1"/>
<rect x="127.62" y="483.47" width="13.6" height="2.66" rx="5.5" ry="1.33" fill="#000" opacity="1"/>
<rect x="145.66" y="483.59" width="15.6" height="2.81" rx="5.5" ry="1.41" fill="#000" opacity="1"/>
<rect x="165.2" y="482.97" width="14.6" height="2.66" rx="5.5" ry="1.33" fill="#000" opacity="1"/>
<rect x="183.74" y="483.52" width="15.6" height="2.96" rx="5.5" ry="1.48" fill="#000" opacity="1"/>
<rect x="203.28" y="483.67" width="14.6" height="2.66" rx="5.5" ry="1.33" fill="#000" opacity="1"/>
<rect x="221.82" y="482.27" width="15.6" height="3.26" rx="5.5" ry="1.63" fill="#000" opacity="1"/>
<rect x="240.86" y="483.4" width="15.6" height="3.4" rx="5.5" ry="1.7" fill="#000" opacity="1"/>
<rect x="259.9" y="483.42" width="15.6" height="2.96" rx="5.5" ry="1.48" fill="#000" opacity="1"/>
<rect x="278.94" y="483.2" width="15.6" height="3.4" rx="5.5" ry="1.7" fill="#000" opacity="1"/>
<rect x="297.98" y="483.52" width="15.6" height="2.96" rx="5.5" ry="1.48" fill="#000" opacity="1"/>
<rect x="318.02" y="483.72" width="13.6" height="2.96" rx="5.5" ry="1.48" fill="#000" opacity="0.6"/>
</g>
<rect x="67.2" y="475.8" width="272.4" height="19" fill="none" stroke="#262626" stroke-width="1.3"/>
<text x="61.3" y="411.6" font-size="13" text-anchor="end" xml:space="preserve">p65</text>
<text x="61.3" y="437.8" font-size="13" text-anchor="end" textLength="46.8" lengthAdjust="spacingAndGlyphs" xml:space="preserve">GAPDH</text>
<text x="61.3" y="464.4" font-size="13" text-anchor="end" xml:space="preserve">p65</text>
<text x="58.6" y="489.6" font-size="13" text-anchor="end" xml:space="preserve">TBP</text>
<line x1="346.2" y1="403.2" x2="346.2" y2="443.7" stroke="#222" stroke-width="1.4"/>
<line x1="346.2" y1="454.3" x2="346.2" y2="494.4" stroke="#222" stroke-width="1.4"/>
<text x="352.1" y="424.8" font-size="13" textLength="50.9" lengthAdjust="spacingAndGlyphs" xml:space="preserve">cytosolic</text>
<text x="352.1" y="476.5" font-size="13" xml:space="preserve">nuclear</text>
</g>
<g id="panelF">
<rect x="67.3" y="522.3" width="286.5" height="155.8" fill="none" stroke="#3c3c3c" stroke-width="1"/>
<line x1="64.3" y1="678.1" x2="67.3" y2="678.1" stroke="#3c3c3c" stroke-width="1"/>
<text x="55" y="682.4" font-size="12" text-anchor="end" xml:space="preserve">0</text>
<line x1="64.3" y1="639.15" x2="67.3" y2="639.15" stroke="#3c3c3c" stroke-width="1"/>
<text x="55" y="643.45" font-size="12" text-anchor="end" xml:space="preserve">1</text>
<line x1="64.3" y1="600.2" x2="67.3" y2="600.2" stroke="#3c3c3c" stroke-width="1"/>
<text x="55" y="604.5" font-size="12" text-anchor="end" xml:space="preserve">2</text>
<line x1="64.3" y1="561.25" x2="67.3" y2="561.25" stroke="#3c3c3c" stroke-width="1"/>
<text x="55" y="565.55" font-size="12" text-anchor="end" xml:space="preserve">3</text>
<line x1="64.3" y1="522.3" x2="67.3" y2="522.3" stroke="#3c3c3c" stroke-width="1"/>
<text x="55" y="526.6" font-size="12" text-anchor="end" xml:space="preserve">4</text>
<line x1="67.3" y1="678.1" x2="67.3" y2="681.1" stroke="#3c3c3c" stroke-width="1"/>
<line x1="91.17" y1="678.1" x2="91.17" y2="681.1" stroke="#3c3c3c" stroke-width="1"/>
<line x1="115.05" y1="678.1" x2="115.05" y2="681.1" stroke="#3c3c3c" stroke-width="1"/>
<line x1="138.93" y1="678.1" x2="138.93" y2="681.1" stroke="#3c3c3c" stroke-width="1"/>
<line x1="162.8" y1="678.1" x2="162.8" y2="681.1" stroke="#3c3c3c" stroke-width="1"/>
<line x1="186.68" y1="678.1" x2="186.68" y2="681.1" stroke="#3c3c3c" stroke-width="1"/>
<line x1="210.55" y1="678.1" x2="210.55" y2="681.1" stroke="#3c3c3c" stroke-width="1"/>
<line x1="234.43" y1="678.1" x2="234.43" y2="681.1" stroke="#3c3c3c" stroke-width="1"/>
<line x1="258.3" y1="678.1" x2="258.3" y2="681.1" stroke="#3c3c3c" stroke-width="1"/>
<line x1="282.18" y1="678.1" x2="282.18" y2="681.1" stroke="#3c3c3c" stroke-width="1"/>
<line x1="306.05" y1="678.1" x2="306.05" y2="681.1" stroke="#3c3c3c" stroke-width="1"/>
<line x1="329.93" y1="678.1" x2="329.93" y2="681.1" stroke="#3c3c3c" stroke-width="1"/>
<line x1="353.8" y1="678.1" x2="353.8" y2="681.1" stroke="#3c3c3c" stroke-width="1"/>
<line x1="75.74" y1="639.15" x2="75.74" y2="634.09" stroke="#111" stroke-width="1"/>
<line x1="73.24" y1="634.09" x2="78.24" y2="634.09" stroke="#111" stroke-width="1"/>
<rect x="72.24" y="639.15" width="7" height="38.95" fill="#fff" stroke="#222" stroke-width="0.9"/>
<line x1="82.74" y1="639.15" x2="82.74" y2="634.09" stroke="#111" stroke-width="1"/>
<line x1="80.24" y1="634.09" x2="85.24" y2="634.09" stroke="#111" stroke-width="1"/>
<rect x="79.24" y="639.15" width="7" height="38.95" fill="#808080" stroke="#222" stroke-width="0.9"/>
<line x1="99.61" y1="632.92" x2="99.61" y2="628.24" stroke="#111" stroke-width="1"/>
<line x1="97.11" y1="628.24" x2="102.11" y2="628.24" stroke="#111" stroke-width="1"/>
<rect x="96.11" y="632.92" width="7" height="45.18" fill="#fff" stroke="#222" stroke-width="0.9"/>
<line x1="106.61" y1="640.32" x2="106.61" y2="636.03" stroke="#111" stroke-width="1"/>
<line x1="104.11" y1="636.03" x2="109.11" y2="636.03" stroke="#111" stroke-width="1"/>
<rect x="103.11" y="640.32" width="7" height="37.78" fill="#808080" stroke="#222" stroke-width="0.9"/>
<line x1="123.49" y1="618.9" x2="123.49" y2="607.99" stroke="#111" stroke-width="1"/>
<line x1="120.99" y1="607.99" x2="125.99" y2="607.99" stroke="#111" stroke-width="1"/>
<rect x="119.99" y="618.9" width="7" height="59.2" fill="#fff" stroke="#222" stroke-width="0.9"/>
<line x1="130.49" y1="606.04" x2="130.49" y2="604.1" stroke="#111" stroke-width="1"/>
<line x1="127.99" y1="604.1" x2="132.99" y2="604.1" stroke="#111" stroke-width="1"/>
<rect x="126.99" y="606.04" width="7" height="72.06" fill="#808080" stroke="#222" stroke-width="0.9"/>
<line x1="147.36" y1="619.29" x2="147.36" y2="618.51" stroke="#111" stroke-width="1"/>
<line x1="144.86" y1="618.51" x2="149.86" y2="618.51" stroke="#111" stroke-width="1"/>
<rect x="143.86" y="619.29" width="7" height="58.81" fill="#fff" stroke="#222" stroke-width="0.9"/>
<line x1="154.36" y1="610.72" x2="154.36" y2="607.6" stroke="#111" stroke-width="1"/>
<line x1="151.86" y1="607.6" x2="156.86" y2="607.6" stroke="#111" stroke-width="1"/>
<rect x="150.86" y="610.72" width="7" height="67.38" fill="#808080" stroke="#222" stroke-width="0.9"/>
<line x1="171.24" y1="589.68" x2="171.24" y2="586.18" stroke="#111" stroke-width="1"/>
<line x1="168.74" y1="586.18" x2="173.74" y2="586.18" stroke="#111" stroke-width="1"/>
<rect x="167.74" y="589.68" width="7" height="88.42" fill="#fff" stroke="#222" stroke-width="0.9"/>
<line x1="178.24" y1="566.7" x2="178.24" y2="562.42" stroke="#111" stroke-width="1"/>
<line x1="175.74" y1="562.42" x2="180.74" y2="562.42" stroke="#111" stroke-width="1"/>
<rect x="174.74" y="566.7" width="7" height="111.4" fill="#808080" stroke="#222" stroke-width="0.9"/>
<line x1="195.11" y1="590.85" x2="195.11" y2="587.74" stroke="#111" stroke-width="1"/>
<line x1="192.61" y1="587.74" x2="197.61" y2="587.74" stroke="#111" stroke-width="1"/>
<rect x="191.61" y="590.85" width="7" height="87.25" fill="#fff" stroke="#222" stroke-width="0.9"/>
<line x1="202.11" y1="579.95" x2="202.11" y2="578" stroke="#111" stroke-width="1"/>
<line x1="199.61" y1="578" x2="204.61" y2="578" stroke="#111" stroke-width="1"/>
<rect x="198.61" y="579.95" width="7" height="98.15" fill="#808080" stroke="#222" stroke-width="0.9"/>
<line x1="218.99" y1="592.02" x2="218.99" y2="589.29" stroke="#111" stroke-width="1"/>
<line x1="216.49" y1="589.29" x2="221.49" y2="589.29" stroke="#111" stroke-width="1"/>
<rect x="215.49" y="592.02" width="7" height="86.08" fill="#fff" stroke="#222" stroke-width="0.9"/>
<line x1="225.99" y1="583.45" x2="225.99" y2="579.95" stroke="#111" stroke-width="1"/>
<line x1="223.49" y1="579.95" x2="228.49" y2="579.95" stroke="#111" stroke-width="1"/>
<rect x="222.49" y="583.45" width="7" height="94.65" fill="#808080" stroke="#222" stroke-width="0.9"/>
<line x1="242.86" y1="575.66" x2="242.86" y2="569.04" stroke="#111" stroke-width="1"/>
<line x1="240.36" y1="569.04" x2="245.36" y2="569.04" stroke="#111" stroke-width="1"/>
<rect x="239.36" y="575.66" width="7" height="102.44" fill="#fff" stroke="#222" stroke-width="0.9"/>
<line x1="249.86" y1="558.13" x2="249.86" y2="555.8" stroke="#111" stroke-width="1"/>
<line x1="247.36" y1="555.8" x2="252.36" y2="555.8" stroke="#111" stroke-width="1"/>
<rect x="246.36" y="558.13" width="7" height="119.97" fill="#808080" stroke="#222" stroke-width="0.9"/>
<line x1="266.74" y1="593.97" x2="266.74" y2="592.02" stroke="#111" stroke-width="1"/>
<line x1="264.24" y1="592.02" x2="269.24" y2="592.02" stroke="#111" stroke-width="1"/>
<rect x="263.24" y="593.97" width="7" height="84.13" fill="#fff" stroke="#222" stroke-width="0.9"/>
<line x1="273.74" y1="572.93" x2="273.74" y2="570.99" stroke="#111" stroke-width="1"/>
<line x1="271.24" y1="570.99" x2="276.24" y2="570.99" stroke="#111" stroke-width="1"/>
<rect x="270.24" y="572.93" width="7" height="105.17" fill="#808080" stroke="#222" stroke-width="0.9"/>
<line x1="290.61" y1="588.51" x2="290.61" y2="585.01" stroke="#111" stroke-width="1"/>
<line x1="288.11" y1="585.01" x2="293.11" y2="585.01" stroke="#111" stroke-width="1"/>
<rect x="287.11" y="588.51" width="7" height="89.59" fill="#fff" stroke="#222" stroke-width="0.9"/>
<line x1="297.61" y1="563.2" x2="297.61" y2="561.64" stroke="#111" stroke-width="1"/>
<line x1="295.11" y1="561.64" x2="300.11" y2="561.64" stroke="#111" stroke-width="1"/>
<rect x="294.11" y="563.2" width="7" height="114.9" fill="#808080" stroke="#222" stroke-width="0.9"/>
<line x1="314.49" y1="590.07" x2="314.49" y2="588.51" stroke="#111" stroke-width="1"/>
<line x1="311.99" y1="588.51" x2="316.99" y2="588.51" stroke="#111" stroke-width="1"/>
<rect x="310.99" y="590.07" width="7" height="88.03" fill="#fff" stroke="#222" stroke-width="0.9"/>
<line x1="321.49" y1="572.16" x2="321.49" y2="569.43" stroke="#111" stroke-width="1"/>
<line x1="318.99" y1="569.43" x2="323.99" y2="569.43" stroke="#111" stroke-width="1"/>
<rect x="317.99" y="572.16" width="7" height="105.94" fill="#808080" stroke="#222" stroke-width="0.9"/>
<line x1="338.36" y1="608.38" x2="338.36" y2="605.07" stroke="#111" stroke-width="1"/>
<line x1="335.86" y1="605.07" x2="340.86" y2="605.07" stroke="#111" stroke-width="1"/>
<rect x="334.86" y="608.38" width="7" height="69.72" fill="#fff" stroke="#222" stroke-width="0.9"/>
<line x1="345.36" y1="589.29" x2="345.36" y2="585.4" stroke="#111" stroke-width="1"/>
<line x1="342.86" y1="585.4" x2="347.86" y2="585.4" stroke="#111" stroke-width="1"/>
<rect x="341.86" y="589.29" width="7" height="88.81" fill="#808080" stroke="#222" stroke-width="0.9"/>
<text x="83.74" y="688.8" font-size="12.5" text-anchor="end" transform="rotate(-90 83.74 688.8)" xml:space="preserve">CD34#1</text>
<text x="107.61" y="688.8" font-size="12.5" text-anchor="end" transform="rotate(-90 107.61 688.8)" xml:space="preserve">CD34#2</text>
<text x="131.49" y="688.8" font-size="12.5" text-anchor="end" transform="rotate(-90 131.49 688.8)" xml:space="preserve">AML#4</text>
<text x="155.36" y="688.8" font-size="12.5" text-anchor="end" transform="rotate(-90 155.36 688.8)" xml:space="preserve">AML#7</text>
<text x="179.24" y="688.8" font-size="12.5" text-anchor="end" transform="rotate(-90 179.24 688.8)" xml:space="preserve">AML#8</text>
<text x="203.11" y="688.8" font-size="12.5" text-anchor="end" transform="rotate(-90 203.11 688.8)" xml:space="preserve">AML#13</text>
<text x="226.99" y="688.8" font-size="12.5" text-anchor="end" transform="rotate(-90 226.99 688.8)" xml:space="preserve">AML#17</text>
<text x="250.86" y="688.8" font-size="12.5" text-anchor="end" transform="rotate(-90 250.86 688.8)" xml:space="preserve">AML#18</text>
<text x="274.74" y="688.8" font-size="12.5" text-anchor="end" transform="rotate(-90 274.74 688.8)" xml:space="preserve">AML#19</text>
<text x="298.61" y="688.8" font-size="12.5" text-anchor="end" transform="rotate(-90 298.61 688.8)" xml:space="preserve">AML#20</text>
<text x="322.49" y="688.8" font-size="12.5" text-anchor="end" transform="rotate(-90 322.49 688.8)" xml:space="preserve">AML#22</text>
<text x="346.36" y="688.8" font-size="12.5" text-anchor="end" transform="rotate(-90 346.36 688.8)" xml:space="preserve">THP1</text>
<text x="40.2" y="694.5" font-size="9.4" transform="rotate(-90 40.2 694.5)" textLength="178.5" lengthAdjust="spacingAndGlyphs" xml:space="preserve">fold nuclear immunolocalisation/total</text>
<rect x="303.9" y="529.1" width="7.4" height="7.4" fill="#fff" stroke="#222" stroke-width="0.9"/>
<rect x="303.9" y="545" width="7.4" height="7.4" fill="#808080" stroke="#222" stroke-width="0.9"/>
<text x="315" y="537.4" font-size="13.4" textLength="28.4" lengthAdjust="spacingAndGlyphs" xml:space="preserve">Nrf2</text>
<text x="315" y="553.5" font-size="13.4" textLength="26.5" lengthAdjust="spacingAndGlyphs" xml:space="preserve">p65</text>
<rect x="398.8" y="550.9" width="103.9" height="95.7" fill="#fff" stroke="#333" stroke-width="1"/>
<line x1="395.8" y1="646.6" x2="398.8" y2="646.6" stroke="#333" stroke-width="1"/>
<text x="389.8" y="651.1" font-size="12.6" text-anchor="end" xml:space="preserve">0</text>
<line x1="398.8" y1="646.6" x2="398.8" y2="649.6" stroke="#333" stroke-width="1"/>
<text x="398.8" y="665.6" font-size="12.6" text-anchor="middle" xml:space="preserve">0</text>
<line x1="395.8" y1="606.6" x2="398.8" y2="606.6" stroke="#333" stroke-width="1"/>
<text x="389.8" y="611.1" font-size="12.6" text-anchor="end" xml:space="preserve">1</text>
<line x1="442.1" y1="646.6" x2="442.1" y2="649.6" stroke="#333" stroke-width="1"/>
<text x="442.1" y="665.6" font-size="12.6" text-anchor="middle" xml:space="preserve">1</text>
<line x1="395.8" y1="566.6" x2="398.8" y2="566.6" stroke="#333" stroke-width="1"/>
<text x="389.8" y="571.1" font-size="12.6" text-anchor="end" xml:space="preserve">2</text>
<line x1="485.4" y1="646.6" x2="485.4" y2="649.6" stroke="#333" stroke-width="1"/>
<text x="485.4" y="665.6" font-size="12.6" text-anchor="middle" xml:space="preserve">2</text>
<circle cx="418.46" cy="633.47" r="2.75" fill="#fff" stroke="#000" stroke-width="0.9"/>
<circle cx="421.92" cy="625.39" r="2.75" fill="#fff" stroke="#000" stroke-width="0.9"/>
<circle cx="423.77" cy="628.85" r="2.75" fill="#fff" stroke="#000" stroke-width="0.9"/>
<circle cx="429.54" cy="620.78" r="2.75" fill="#fff" stroke="#000" stroke-width="0.9"/>
<circle cx="433" cy="622.39" r="2.75" fill="#fff" stroke="#000" stroke-width="0.9"/>
<circle cx="439.23" cy="616.62" r="2.75" fill="#fff" stroke="#000" stroke-width="0.9"/>
<circle cx="435.08" cy="601.85" r="2.75" fill="#fff" stroke="#000" stroke-width="0.9"/>
<circle cx="437.62" cy="596.54" r="2.75" fill="#fff" stroke="#000" stroke-width="0.9"/>
<circle cx="440.39" cy="600.47" r="2.75" fill="#fff" stroke="#000" stroke-width="0.9"/>
<circle cx="442.7" cy="606.93" r="2.75" fill="#fff" stroke="#000" stroke-width="0.9"/>
<circle cx="445" cy="602.31" r="2.75" fill="#fff" stroke="#000" stroke-width="0.9"/>
<circle cx="443.85" cy="590.77" r="2.75" fill="#fff" stroke="#000" stroke-width="0.9"/>
<circle cx="446.85" cy="586.85" r="2.75" fill="#fff" stroke="#000" stroke-width="0.9"/>
<circle cx="448.93" cy="590.31" r="2.75" fill="#fff" stroke="#000" stroke-width="0.9"/>
<circle cx="447.31" cy="613.85" r="2.75" fill="#fff" stroke="#000" stroke-width="0.9"/>
<circle cx="450.31" cy="608.54" r="2.75" fill="#fff" stroke="#000" stroke-width="0.9"/>
<circle cx="452.62" cy="611.08" r="2.75" fill="#fff" stroke="#000" stroke-width="0.9"/>
<circle cx="451.23" cy="604.62" r="2.75" fill="#fff" stroke="#000" stroke-width="0.9"/>
<circle cx="451.93" cy="595.39" r="2.75" fill="#fff" stroke="#000" stroke-width="0.9"/>
<circle cx="453.54" cy="583.85" r="2.75" fill="#fff" stroke="#000" stroke-width="0.9"/>
<circle cx="456.08" cy="581.08" r="2.75" fill="#fff" stroke="#000" stroke-width="0.9"/>
<circle cx="457.7" cy="588.47" r="2.75" fill="#fff" stroke="#000" stroke-width="0.9"/>
<circle cx="458.85" cy="578.08" r="2.75" fill="#fff" stroke="#000" stroke-width="0.9"/>
<circle cx="460.47" cy="581.54" r="2.75" fill="#fff" stroke="#000" stroke-width="0.9"/>
<circle cx="461.85" cy="576.93" r="2.75" fill="#fff" stroke="#000" stroke-width="0.9"/>
<circle cx="456.54" cy="600.47" r="2.75" fill="#fff" stroke="#000" stroke-width="0.9"/>
<circle cx="458.85" cy="604.16" r="2.75" fill="#fff" stroke="#000" stroke-width="0.9"/>
<circle cx="461.16" cy="606.93" r="2.75" fill="#fff" stroke="#000" stroke-width="0.9"/>
<circle cx="464.16" cy="602.77" r="2.75" fill="#fff" stroke="#000" stroke-width="0.9"/>
<circle cx="468.08" cy="602.77" r="2.75" fill="#fff" stroke="#000" stroke-width="0.9"/>
<circle cx="461.85" cy="595.39" r="2.75" fill="#fff" stroke="#000" stroke-width="0.9"/>
<circle cx="464.16" cy="591.23" r="2.75" fill="#fff" stroke="#000" stroke-width="0.9"/>
<circle cx="466.47" cy="586.16" r="2.75" fill="#fff" stroke="#000" stroke-width="0.9"/>
<circle cx="468.08" cy="581.54" r="2.75" fill="#fff" stroke="#000" stroke-width="0.9"/>
<circle cx="470.39" cy="578.08" r="2.75" fill="#fff" stroke="#000" stroke-width="0.9"/>
<circle cx="471.54" cy="575.08" r="2.75" fill="#fff" stroke="#000" stroke-width="0.9"/>
<circle cx="473.85" cy="579.23" r="2.75" fill="#fff" stroke="#000" stroke-width="0.9"/>
<circle cx="475.7" cy="574.16" r="2.75" fill="#fff" stroke="#000" stroke-width="0.9"/>
<circle cx="477.31" cy="586.16" r="2.75" fill="#fff" stroke="#000" stroke-width="0.9"/>
<circle cx="478.47" cy="590.31" r="2.75" fill="#fff" stroke="#000" stroke-width="0.9"/>
<circle cx="478.01" cy="593.54" r="2.75" fill="#fff" stroke="#000" stroke-width="0.9"/>
<circle cx="480.78" cy="576.93" r="2.75" fill="#fff" stroke="#000" stroke-width="0.9"/>
<circle cx="482.62" cy="587.31" r="2.75" fill="#fff" stroke="#000" stroke-width="0.9"/>
<circle cx="473.39" cy="585" r="2.75" fill="#fff" stroke="#000" stroke-width="0.9"/>
<circle cx="470.39" cy="590.31" r="2.75" fill="#fff" stroke="#000" stroke-width="0.9"/>
<circle cx="466.93" cy="596.54" r="2.75" fill="#fff" stroke="#000" stroke-width="0.9"/>
<circle cx="473.85" cy="562.62" r="2.75" fill="#fff" stroke="#000" stroke-width="0.9"/>
<circle cx="480.31" cy="563.77" r="2.75" fill="#fff" stroke="#000" stroke-width="0.9"/>
<circle cx="484.24" cy="558" r="2.75" fill="#fff" stroke="#000" stroke-width="0.9"/>
<circle cx="487.7" cy="562.62" r="2.75" fill="#fff" stroke="#000" stroke-width="0.9"/>
<circle cx="484.93" cy="570" r="2.75" fill="#fff" stroke="#000" stroke-width="0.9"/>
<circle cx="490.47" cy="571.16" r="2.75" fill="#fff" stroke="#000" stroke-width="0.9"/>
<circle cx="490.01" cy="576.46" r="2.75" fill="#fff" stroke="#000" stroke-width="0.9"/>
<circle cx="497.62" cy="564.92" r="2.75" fill="#fff" stroke="#000" stroke-width="0.9"/>
<circle cx="481.24" cy="572.31" r="2.75" fill="#fff" stroke="#000" stroke-width="0.9"/>
<circle cx="448.93" cy="597.7" r="2.75" fill="#fff" stroke="#000" stroke-width="0.9"/>
<circle cx="455.39" cy="590.77" r="2.75" fill="#fff" stroke="#000" stroke-width="0.9"/>
<circle cx="451.23" cy="586.16" r="2.75" fill="#fff" stroke="#000" stroke-width="0.9"/>
<circle cx="463.47" cy="583.85" r="2.75" fill="#fff" stroke="#000" stroke-width="0.9"/>
<circle cx="467.39" cy="576.93" r="2.75" fill="#fff" stroke="#000" stroke-width="0.9"/>
<circle cx="457.7" cy="606.93" r="2.75" fill="#fff" stroke="#000" stroke-width="0.9"/>
<circle cx="441.54" cy="608.77" r="2.75" fill="#fff" stroke="#000" stroke-width="0.9"/>
<circle cx="442.7" cy="612.7" r="2.75" fill="#fff" stroke="#000" stroke-width="0.9"/>
<circle cx="454.23" cy="602.31" r="2.75" fill="#fff" stroke="#000" stroke-width="0.9"/>
<circle cx="461.16" cy="575.77" r="2.75" fill="#fff" stroke="#000" stroke-width="0.9"/>
<circle cx="471.54" cy="581.54" r="2.75" fill="#fff" stroke="#000" stroke-width="0.9"/>
<circle cx="476.16" cy="582.7" r="2.75" fill="#fff" stroke="#000" stroke-width="0.9"/>
<circle cx="469.24" cy="586.16" r="2.75" fill="#fff" stroke="#000" stroke-width="0.9"/>
<line x1="415.7" y1="624.9" x2="499.2" y2="562.4" stroke="#111" stroke-width="1"/>
<text x="402.2" y="563.7" font-size="11.8" textLength="63.2" lengthAdjust="spacingAndGlyphs" xml:space="preserve">R² = 0.6713</text>
<text x="430" y="683.8" font-size="13" textLength="48.5" lengthAdjust="spacingAndGlyphs" xml:space="preserve">fold Nrf2</text>
<text x="372.8" y="622.3" font-size="13" transform="rotate(-90 372.8 622.3)" textLength="46.8" lengthAdjust="spacingAndGlyphs" xml:space="preserve">fold p65</text>
</g>
</svg>
</body>
</html>
